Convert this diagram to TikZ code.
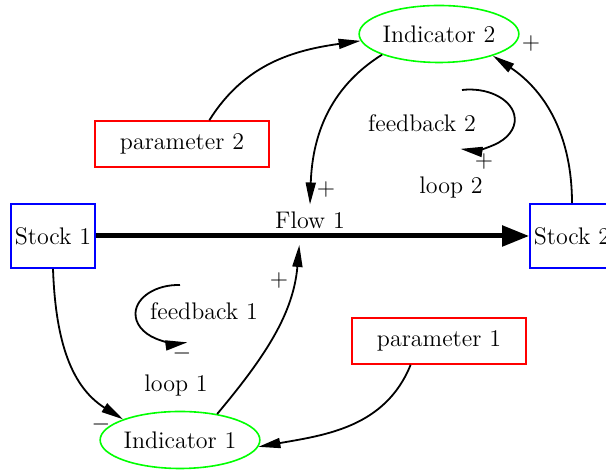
\documentclass[tikz,border=0pt]{standalone}
\usetikzlibrary{shapes.geometric,arrows.meta}

\begin{document}
\begin{tikzpicture}[x=0.5pt, y=0.5pt, font=\large
    , stock/.style = {rectangle,draw=blue,line width=0.8pt,minimum width=42pt,minimum height=32pt,inner sep=1pt}
    , param/.style = {rectangle,draw=red,line width=0.8pt,minimum width=87pt,minimum height=23pt}
    , indic/.style = {ellipse,draw=green,line width=0.8pt,minimum width=77pt,minimum height=28.5pt,inner sep=0pt}
    , link/.style = {draw,line width=0.9pt,-{Triangle[length=11pt,width=5pt]}}
    , flowarr/.style = {draw,line width=2.5pt,-{Triangle[length=13.5pt,width=10pt]}}
    , sign/.style = {inner sep=1pt}
]
\useasboundingbox (0,0) rectangle (606,474);

\node[stock] (s1) at (53, 238) {Stock 1};
\node[stock] (s2) at (572, 238) {Stock 2};
\node[indic] (i1) at (180, 34) {Indicator 1};
\node[indic] (i2) at (439, 440) {Indicator 2};
\node[param] (p1) at (439, 133) {parameter 1};
\node[param] (p2) at (182, 330) {parameter 2};

% flow between the stocks
\node (flow) at (310, 254) {Flow 1};
\coordinate (valve) at (300, 237);
\draw[flowarr] (s1) -- (s2);

% causal links
\draw[link] (p2.41) to[out=58, in=188] (i2.185);
\draw[link] (i2.200) to[out=212, in=88] (flow.north);
\draw[link] (s2.north) to[out=90, in=-34] (i2.-22);
\draw[link] (s1.south) to[out=-88, in=148] (i1.160);
\draw[link, shorten >=4pt] (i1.35) to[out=50, in=-95] (valve);
\draw[link] (p1.-140) to[out=-112, in=10] (i1.-5);

% polarities
\foreach \t/\x/\y in {+/326/284, +/531/430, +/279/193, -/101/49}
    \node[sign] at (\x, \y) {$\t$};

% loops
\node (fb2) at (422, 351) {feedback 2};
\node (lp2) at (451, 286) {loop 2};
\node[sign] at (484, 312) {$+$};
\draw[link] (462, 384) arc[start angle=100, end angle=-102, x radius=45, y radius=30];

\node (fb1) at (204, 163) {feedback 1};
\node (lp1) at (176, 88) {loop 1};
\node[sign] at (182, 120) {$-$};
\draw[link] (180, 189) arc[start angle=88, end angle=282, x radius=43, y radius=29];
\end{tikzpicture}
\end{document}
